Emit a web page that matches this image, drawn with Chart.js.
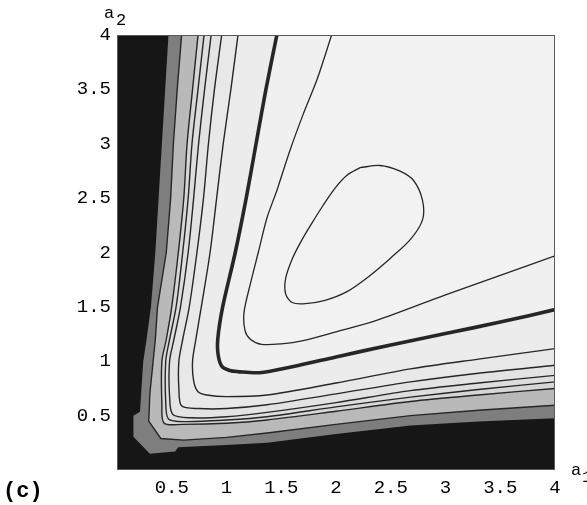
<!DOCTYPE html>
<html>
<head>
<meta charset="utf-8">
<script src="https://cdn.jsdelivr.net/npm/chart.js@4.4.1/dist/chart.umd.min.js"></script>
<style>
    html, body { margin: 0; padding: 0; background: #fff; }
    #wrap { width: 587px; height: 505px; }
</style>
</head>
<body>
<div id="wrap"><canvas id="ctx"></canvas></div>
<script>
const xTicks = [0.5, 1, 1.5, 2, 2.5, 3, 3.5, 4];
const xTickLabels = ['0.5', '1', '1.5', '2', '2.5', '3', '3.5', '4'];
const yTicks = [0.5, 1, 1.5, 2, 2.5, 3, 3.5, 4];
const yTickLabels = ['0.5', '1', '1.5', '2', '2.5', '3', '3.5', '4'];

// contour lines [a1, a2], each runs from the top edge round to the right edge
const level0 = [[0.47, 4], [0.44, 3.5], [0.41, 3], [0.38, 2.5], [0.35, 2], [0.31, 1.5], [0.27, 1.2], [0.24, 1.0],
    [0.22, 0.7], [0.21, 0.535], [0.15, 0.5], [0.15, 0.305], [0.3, 0.15], [0.53, 0.17], [0.56, 0.21], [0.8, 0.22],
    [1.0, 0.23], [1.37, 0.25], [2.0, 0.33], [2.68, 0.41], [3.3, 0.445], [4, 0.475]];
const level1 = [[0.59, 4], [0.55, 3.5], [0.515, 3], [0.49, 2.5], [0.45, 2], [0.37, 1.5], [0.35, 1.2], [0.33, 1.0],
    [0.3, 0.7], [0.29, 0.45], [0.4, 0.29], [0.61, 0.275], [1.0, 0.3], [1.37, 0.34], [2.0, 0.42], [2.68, 0.5],
    [3.3, 0.55], [4, 0.595]];
const level2 = [[0.74, 4], [0.69, 3.5], [0.64, 3], [0.61, 2.5], [0.56, 2], [0.5, 1.5], [0.45, 1.2], [0.41, 1.0],
    [0.41, 0.6], [0.43, 0.43], [0.6, 0.42], [1.0, 0.43], [1.37, 0.46], [2.0, 0.54], [2.68, 0.63], [3.3, 0.69], [4, 0.75]];
const level3 = [[0.795, 4], [0.74, 3.5], [0.685, 3], [0.65, 2.5], [0.6, 2], [0.54, 1.5], [0.48, 1.2], [0.445, 1.0],
    [0.445, 0.62], [0.47, 0.47], [0.62, 0.445], [1.0, 0.46], [1.37, 0.49], [2.0, 0.58], [2.68, 0.67], [3.3, 0.74], [4, 0.81]];
const level4 = [[0.86, 4], [0.8, 3.5], [0.745, 3], [0.7, 2.5], [0.65, 2], [0.58, 1.5], [0.52, 1.2], [0.48, 1.0],
    [0.48, 0.68], [0.51, 0.51], [0.68, 0.48], [1.0, 0.49], [1.37, 0.53], [2.0, 0.62], [2.68, 0.73], [3.3, 0.8], [4, 0.87]];
const level5 = [[0.956, 4], [0.89, 3.5], [0.835, 3], [0.79, 2.5], [0.73, 2], [0.66, 1.5], [0.6, 1.2], [0.565, 1.0],
    [0.565, 0.75], [0.59, 0.59], [0.75, 0.565], [1.0, 0.565], [1.37, 0.6], [2.0, 0.7], [2.68, 0.81], [3.3, 0.89], [4, 0.963]];
const level6 = [[1.105, 4], [1.04, 3.5], [0.97, 3], [0.91, 2.5], [0.85, 2], [0.77, 1.5], [0.72, 1.2], [0.69, 1.0],
    [0.7, 0.82], [0.74, 0.72], [0.82, 0.69], [1.0, 0.675], [1.37, 0.69], [2.0, 0.8], [2.68, 0.93], [3.3, 1.02], [4, 1.116]];
const level7 = [[1.46, 4], [1.36, 3.5], [1.27, 3.0], [1.18, 2.5], [1.08, 2.0], [0.965, 1.5], [0.92, 1.2], [0.925, 1.05],
    [0.96, 0.95], [1.03, 0.915], [1.1, 0.905], [1.3, 0.895], [1.6, 0.95], [2, 1.04], [2.5, 1.15], [3, 1.255],
    [3.5, 1.36], [4, 1.475]];
const level8 = [[1.96, 4], [1.83, 3.6], [1.7, 3.27], [1.58, 2.94], [1.46, 2.57], [1.37, 2.32], [1.29, 2.0], [1.22, 1.72],
    [1.16, 1.45], [1.17, 1.28], [1.22, 1.2], [1.32, 1.155], [1.5, 1.16], [1.7, 1.19], [2.0, 1.27], [2.37, 1.375],
    [3.0, 1.61], [3.5, 1.79], [4, 1.97]];
// closed loop round the maximum
const peak = [[2.22, 2.78], [2.4, 2.8], [2.58, 2.75], [2.71, 2.66], [2.79, 2.48], [2.79, 2.3], [2.68, 2.12],
    [2.5, 1.95], [2.3, 1.78], [2.1, 1.64], [1.9, 1.56], [1.72, 1.53], [1.6, 1.54], [1.54, 1.62], [1.54, 1.76],
    [1.6, 1.94], [1.68, 2.1], [1.78, 2.27], [1.88, 2.43], [1.99, 2.59], [2.1, 2.71], [2.22, 2.78]];

const levels = [level0, level1, level2, level3, level4, level5, level6, level7, level8];
const bandColors = ['#7e7e7e', '#b9b9b9', '#d6d6d6', '#dddddd', '#e3e3e3', '#e8e8e8', '#ececec', '#f0f0f0', '#f2f2f2'];
const lineWidths = [0, 1.4, 1.4, 1.4, 1.4, 1.4, 1.4, 3.6, 1.3];
const tensions = [0, 0, 0.3, 0.3, 0.3, 0.3, 0.3, 0.3, 0.3];

const axisMin = 0, axisMax = 4;
const tickFont = {family: 'Liberation Mono', size: 19};

let datasets = [];
levels.forEach(function (pts, i) {
    let line = pts.map(p => ({x: p[0], y: p[1]}));
    let last = line[line.length - 1];
    // the band above a contour: the line plus the top right corner
    datasets.push({
        data: line.concat([{x: last.x, y: last.y}, {x: axisMax, y: axisMax}]),
        showLine: true,
        fill: 'shape',
        backgroundColor: bandColors[i],
        borderWidth: 0,
        pointRadius: 0,
        tension: tensions[i],
        order: 100 - i
    });
    if (lineWidths[i] > 0) {
        datasets.push({
            data: line,
            showLine: true,
            fill: false,
            borderColor: '#262626',
            borderWidth: lineWidths[i],
            pointRadius: 0,
            tension: tensions[i],
            order: 0
        });
    }
});
datasets.push({
    data: peak.map(p => ({x: p[0], y: p[1]})),
    showLine: true,
    fill: false,
    borderColor: '#262626',
    borderWidth: 1.3,
    pointRadius: 0,
    tension: 0.3,
    order: 0
});

const framePlugin = {
    id: 'frame',
    beforeDatasetsDraw: function (chart) {
        let a = chart.chartArea, ctx = chart.ctx;
        ctx.save();
        ctx.fillStyle = '#161616';
        ctx.fillRect(a.left, a.top, a.right - a.left, a.bottom - a.top);
        ctx.restore();
    },
    afterDatasetsDraw: function (chart) {
        let a = chart.chartArea, ctx = chart.ctx;
        ctx.save();
        ctx.strokeStyle = '#5a5a5a';
        ctx.lineWidth = 1;
        ctx.strokeRect(a.left + 0.5, a.top + 0.5, a.right - a.left - 1, a.bottom - a.top - 1);
        ctx.restore();
    },
    afterDraw: function (chart) {
        let ctx = chart.ctx;
        ctx.save();
        ctx.fillStyle = '#000';
        ctx.textBaseline = 'alphabetic';
        ctx.font = '17px "Liberation Mono"';
        ctx.fillText('a', 104, 18);
        ctx.fillText('2', 116, 25);
        ctx.fillText('a', 571, 475);
        ctx.fillText('1', 582, 482);
        ctx.font = 'bold 22px "Liberation Mono"';
        ctx.fillText('(c)', 3, 497);
        ctx.restore();
    }
};

new Chart(document.getElementById('ctx'), {
    type: 'scatter',
    data: {datasets: datasets},
    options: {
        responsive: true,
        maintainAspectRatio: false,
        animation: false,
        devicePixelRatio: 1,
        events: [],
        layout: {padding: {top: 35, right: 32, left: 0, bottom: 0}},
        plugins: {legend: {display: false}, tooltip: {enabled: false}},
        scales: {
            x: {
                type: 'linear',
                min: axisMin,
                max: axisMax,
                afterFit: s => { s.height = 35; },
                afterBuildTicks: s => { s.ticks = xTicks.map(v => ({value: v})); },
                grid: {display: false, drawTicks: false},
                border: {display: false},
                ticks: {
                    autoSkip: false,
                    maxRotation: 0,
                    padding: 7,
                    color: '#000',
                    font: tickFont,
                    callback: v => xTickLabels[xTicks.indexOf(v)]
                }
            },
            y: {
                type: 'linear',
                min: axisMin,
                max: axisMax,
                afterFit: s => { s.width = 117; },
                afterBuildTicks: s => { s.ticks = yTicks.map(v => ({value: v})); },
                grid: {display: false, drawTicks: false},
                border: {display: false},
                ticks: {
                    autoSkip: false,
                    padding: 6,
                    color: '#000',
                    font: tickFont,
                    callback: v => yTickLabels[yTicks.indexOf(v)]
                }
            }
        }
    },
    plugins: [framePlugin]
});
</script>
</body>
</html>
